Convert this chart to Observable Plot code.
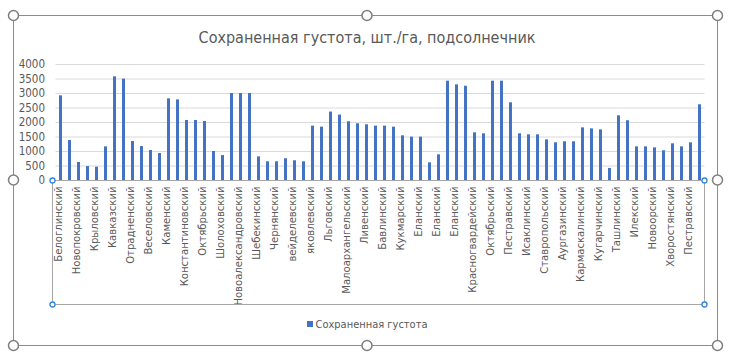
<!DOCTYPE html>
<html>
<head>
<meta charset="utf-8">
<script src="https://cdn.jsdelivr.net/npm/d3@7"></script>
<script src="https://cdn.jsdelivr.net/npm/@observablehq/plot@0.6"></script>
<style>
  html, body { margin: 0; padding: 0; background: #fff; }
  #wrap { position: relative; width: 730px; height: 361px; overflow: hidden;
    font-family: "DejaVu Sans Condensed", "Liberation Sans Narrow", "Noto Sans", sans-serif; }
  #chart { position: absolute; left: 0; top: 0; }
  #title { position: absolute; left: 0; width: 734px; top: 28px; text-align: center;
    font-size: 16px; color: #595959; }
  #legend { position: absolute; left: 0; width: 734px; top: 318px; text-align: center;
    font-size: 11px; color: #595959; }
  #legend .sw { display: inline-block; width: 6px; height: 6px; background: #4472c4; margin-right: 3px; vertical-align: 1px; }
  #deco { position: absolute; left: 0; top: 0; pointer-events: none; }
</style>
</head>
<body>
<div id="wrap">
  <div id="chart"></div>
  <div id="title">Сохраненная густота, шт./га, подсолнечник</div>
  <div id="legend"><span class="sw"></span>Сохраненная густота</div>
  <svg id="deco" width="730" height="361"></svg>
</div>
<script>
// Category labels (shown on every other bar, as in the source)
const labels = [
  "Белоглинский","Новопокровский","Крыловский","Кавказский","Отрадненский","Веселовский",
  "Каменский","Константиновский","Октябрьский","Шолоховский","Новоалександровский","Шебекинский",
  "Чернянский","вейделевский","яковлевский","Льговский","Малоархангельский","Ливенский",
  "Бавлинский","Кукмарский","Еланский","Еланский","Еланский","Красногвардейский",
  "Октябрьский","Пестравский","Исаклинский","Ставропольский","Аургазинский","Кармаскалинский",
  "Кугарчинский","Ташлинский","Илекский","Новоорский","Хворостянский","Пестравский"
];
// Series values: Сохраненная густота, шт./га (72 bars)
const values = [
  2920,1380,620,480,460,1160,3575,3495,1345,1170,1035,930,
  2815,2780,2070,2070,2035,1000,860,3000,3000,3000,815,645,
  645,750,680,645,1875,1840,2360,2255,2025,1955,1920,1875,
  1875,1840,1540,1495,1495,610,885,3425,3300,3250,1645,1610,
  3425,3425,2680,1610,1575,1575,1400,1300,1335,1335,1815,1780,
  1745,415,2230,2060,1160,1160,1125,1025,1265,1160,1300,2610
];
const yTicks = [0,500,1000,1500,2000,2500,3000,3500,4000];
const seriesName = "Сохраненная густота";

const data = values.map((v, i) => ({i, v}));

const chart = Plot.plot({
  width: 730,
  height: 361,
  marginTop: 64,
  marginBottom: 181,
  marginLeft: 55.5,
  marginRight: 25.5,
  style: { fontFamily: '"DejaVu Sans Condensed", "Liberation Sans Narrow", sans-serif', fontSize: "11px", color: "#595959", background: "transparent" },
  x: { type: "band", domain: d3.range(values.length), paddingInner: 0.66, paddingOuter: 0.33, align: 0.5, label: null },
  y: { domain: [0, 4000], label: null },
  marks: [
    Plot.gridY(yTicks, { stroke: "#d9d9d9", strokeOpacity: 1 }),
    Plot.barY(data, { x: "i", y: "v", fill: "#4472c4" }),
    Plot.ruleY([0], { stroke: "#d9d9d9", strokeOpacity: 1 }),
    Plot.axisY(yTicks, { tickSize: 0, tickPadding: 11, fontSize: 11.5, fill: "#595959", tickFormat: d => String(d), label: null }),
    Plot.axisX(d3.range(0, values.length, 2), {
      tickSize: 0, tickPadding: 6, tickRotate: -90, fontSize: 11.2, fill: "#595959", dx: -3,
      tickFormat: i => labels[i / 2], label: null
    })
  ]
});
document.getElementById("chart").appendChild(chart);

// decorative selection frame (Excel chart selection handles)
const deco = d3.select("#deco");
deco.append("rect").attr("x", 13.5).attr("y", 15.5).attr("width", 704).attr("height", 330)
  .attr("fill", "none").attr("stroke", "#8c8c8c");
deco.append("rect").attr("x", 52.5).attr("y", 180.5).attr("width", 652).attr("height", 124)
  .attr("fill", "none").attr("stroke", "#a6a6a6");
const big = [[13.5,15.5],[367,15.5],[717.5,15.5],[13.5,180],[717.5,180],[13.5,345.5],[367,345.5],[717.5,345.5]];
deco.selectAll("circle.big").data(big).join("circle").attr("class","big")
  .attr("cx", d => d[0]).attr("cy", d => d[1]).attr("r", 5)
  .attr("fill", "#fff").attr("stroke", "#7f7f7f").attr("stroke-width", 1.5);
const small = [[52.5,180.5],[704.5,180.5],[52.5,304.5],[704.5,304.5]];
deco.selectAll("circle.small").data(small).join("circle").attr("class","small")
  .attr("cx", d => d[0]).attr("cy", d => d[1]).attr("r", 2.5)
  .attr("fill", "#fff").attr("stroke", "#2e86de").attr("stroke-width", 1.3);
</script>
</body>
</html>
